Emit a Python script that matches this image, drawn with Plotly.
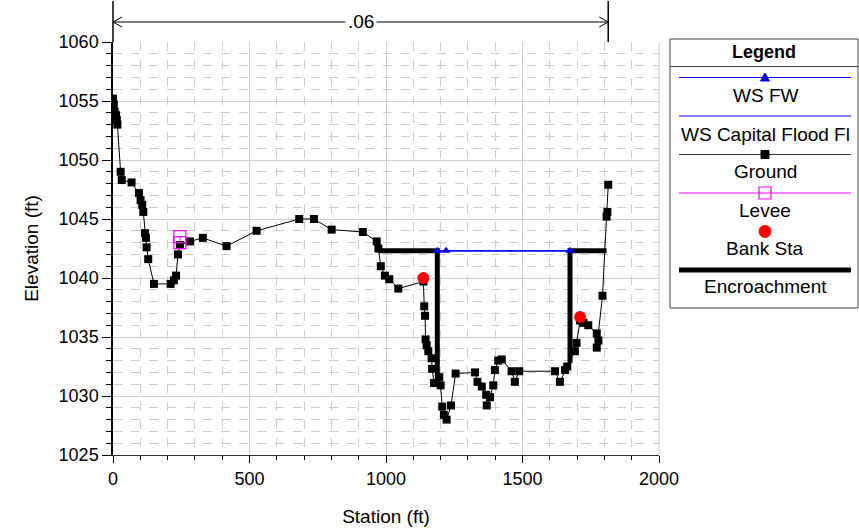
import plotly.graph_objects as go

# ---------------- data ----------------
ground_sta = [0, 3, 6, 11, 14, 16, 28, 32, 68, 95, 101, 107, 111, 117, 121, 123, 129, 150, 211, 223,
              231, 238, 245, 282, 329, 416, 526, 682, 736, 801, 915, 966, 972, 981, 996, 1012, 1045,
              1137, 1140, 1143, 1145, 1149, 1155, 1167, 1169, 1176, 1195, 1200, 1206, 1212, 1222,
              1238, 1255, 1326, 1335, 1351, 1367, 1369, 1381, 1393, 1399, 1411, 1424, 1460, 1472,
              1488, 1619, 1637, 1656, 1664, 1692, 1698, 1711, 1723, 1741, 1772, 1778, 1772, 1793,
              1808, 1811, 1814]
ground_elev = [1055.2, 1054.7, 1054.1, 1053.8, 1053.4, 1053.0, 1049.0, 1048.3, 1048.1, 1047.2, 1046.6,
               1046.2, 1045.6, 1043.8, 1043.4, 1042.6, 1041.6, 1039.5, 1039.5, 1039.8, 1040.2, 1042.0,
               1042.8, 1043.1, 1043.4, 1042.7, 1044.0, 1045.0, 1045.0, 1044.1, 1043.9, 1043.1, 1042.5,
               1041.0, 1040.2, 1039.9, 1039.1, 1039.7, 1037.6, 1036.8, 1034.8, 1034.3, 1033.8, 1033.2,
               1032.3, 1031.1, 1031.6, 1030.9, 1029.1, 1028.4, 1028.0, 1029.2, 1031.9, 1032.0, 1031.2,
               1030.8, 1030.1, 1029.2, 1029.9, 1030.9, 1032.2, 1033.0, 1033.1, 1032.1, 1031.2, 1032.1,
               1032.1, 1031.2, 1032.2, 1032.5, 1033.8, 1034.5, 1036.4, 1036.2, 1036.0, 1035.3, 1034.7,
               1034.1, 1038.5, 1045.2, 1045.6, 1047.9]

levee_sta = [245, 245]
levee_elev = [1043.5, 1043.0]

bank_sta = [1137, 1711]
bank_elev = [1040.0, 1036.7]

ws_sta = [1188, 1220, 1674]
ws_fw_elev = [1042.3, 1042.3, 1042.3]
ws_cap_elev = [1042.3, 1042.3, 1042.3]

encr_sta = [972, 1188, 1188, None, 1674, 1674, 1808]
encr_elev = [1042.3, 1042.3, 1031.1, None, 1032.8, 1042.3, 1042.3]

n_label = [".06"]
n_sta = [0, 1814]

x_range = [0, 2000]
y_range = [1025, 1060]

legend_names = ["WS FW", "WS Capital Flood Fl", "Ground", "Levee", "Bank Sta", "Encroachment"]

# ---------------- layout helpers ----------------
W, H = 859, 529
L, R, T, B = 113, 200, 42, 74
PW, PH = W - L - R, H - T - B
FONT = "Liberation Sans, Arial, sans-serif"


def px(xpix):
    return (xpix - L) / PW


def py(ypix):
    return (H - B - ypix) / PH


def sta2paper(s):
    return (s - x_range[0]) / (x_range[1] - x_range[0])


fig = go.Figure()

fig.add_trace(go.Scatter(x=ws_sta, y=ws_cap_elev, mode="lines", line=dict(color="#0000ff", width=1.2),
                         name=legend_names[1], showlegend=False))
fig.add_trace(go.Scatter(x=encr_sta, y=encr_elev, mode="lines", line=dict(color="black", width=5),
                         name=legend_names[5], showlegend=False, connectgaps=False))
fig.add_trace(go.Scatter(x=ground_sta, y=ground_elev, mode="lines+markers",
                         line=dict(color="black", width=1),
                         marker=dict(symbol="square", size=8, color="black"),
                         name=legend_names[2], showlegend=False))
fig.add_trace(go.Scatter(x=ws_sta, y=ws_fw_elev, mode="lines+markers", line=dict(color="#0000ff", width=1.2),
                         marker=dict(symbol="triangle-up", size=8, color="#0000ff"),
                         name=legend_names[0], showlegend=False))
fig.add_trace(go.Scatter(x=levee_sta, y=levee_elev, mode="lines+markers", line=dict(color="#ff00ff", width=1),
                         marker=dict(symbol="square-open", size=12, color="#ff00ff", line=dict(width=1.2)),
                         name=legend_names[3], showlegend=False))
fig.add_trace(go.Scatter(x=bank_sta, y=bank_elev, mode="markers",
                         marker=dict(symbol="circle", size=12, color="#ff0000"),
                         name=legend_names[4], showlegend=False))

shapes = []
annotations = []

# ---- n-value dimension line above the plot ----
x0p, x1p = sta2paper(n_sta[0]), sta2paper(n_sta[1])
ydim = py(22)
shapes.append(dict(type="line", xref="paper", yref="paper", x0=x0p, x1=x1p, y0=ydim, y1=ydim,
                   line=dict(color="black", width=1)))
for xp in (x0p, x1p):
    shapes.append(dict(type="line", xref="paper", yref="paper", x0=xp, x1=xp, y0=py(1), y1=py(42),
                       line=dict(color="black", width=1.5)))
ax_dx = 9 / PW
ax_dy = 5 / PH
shapes.append(dict(type="path", xref="paper", yref="paper",
                   path=f"M {x0p+ax_dx},{ydim+ax_dy} L {x0p},{ydim} L {x0p+ax_dx},{ydim-ax_dy}",
                   line=dict(color="black", width=1)))
shapes.append(dict(type="path", xref="paper", yref="paper",
                   path=f"M {x1p-ax_dx},{ydim+ax_dy} L {x1p},{ydim} L {x1p-ax_dx},{ydim-ax_dy}",
                   line=dict(color="black", width=1)))
annotations.append(dict(text=n_label[0], xref="paper", yref="paper", x=(x0p + x1p) / 2, y=ydim,
                        showarrow=False, font=dict(family=FONT, size=19, color="black"),
                        bgcolor="white", xanchor="center", yanchor="middle", borderpad=2))

# ---- custom legend box ----
lx0, lx1 = px(670), px(858)
shapes.append(dict(type="rect", xref="paper", yref="paper", x0=lx0, x1=lx1, y0=py(308), y1=py(39),
                   line=dict(color="#444444", width=1), fillcolor="white", layer="below"))
shapes.append(dict(type="line", xref="paper", yref="paper", x0=lx0, x1=lx1, y0=py(66.5), y1=py(66.5),
                   line=dict(color="#444444", width=1)))
annotations.append(dict(text="<b>Legend</b>", xref="paper", yref="paper", x=px(764), y=py(52),
                        showarrow=False, font=dict(family=FONT, size=18, color="black"),
                        xanchor="center", yanchor="middle"))

sx0, sx1, sxc = px(679), px(851), px(765)
line_y = [77.5, 116, 154.5, 193, 231.5, 270]
text_y = [95, 134, 172, 210, 248, 286]
leg_colors = ["#0000ff", "#0000ff", "#333333", "#ff00ff", None, "black"]
for i, name in enumerate(legend_names):
    yy = py(line_y[i])
    if leg_colors[i] is not None:
        w = 5 if i == 5 else 1.2
        shapes.append(dict(type="line", xref="paper", yref="paper", x0=sx0, x1=sx1, y0=yy, y1=yy,
                           line=dict(color=leg_colors[i], width=w)))
    annotations.append(dict(text=name, xref="paper", yref="paper", x=sxc, y=py(text_y[i]),
                            showarrow=False, font=dict(family=FONT, size=19, color="black"),
                            xanchor="center", yanchor="middle"))

# legend marker glyphs
def rect_px(cx, cy, half, **kw):
    return dict(type="rect", xref="paper", yref="paper", x0=px(cx - half), x1=px(cx + half),
                y0=py(cy + half), y1=py(cy - half), **kw)

# triangle (WS FW)
shapes.append(dict(type="path", xref="paper", yref="paper",
                   path=f"M {px(760.5)},{py(81)} L {px(769.5)},{py(81)} L {px(765)},{py(73)} Z",
                   fillcolor="#0000ff", line=dict(color="#0000ff", width=1)))
# square (Ground)
shapes.append(rect_px(765, 154.5, 4, fillcolor="black", line=dict(color="black", width=1)))
# open square (Levee)
shapes.append(rect_px(765, 193, 6, fillcolor="rgba(0,0,0,0)", line=dict(color="#ff00ff", width=1.2)))
# circle (Bank Sta)
shapes.append(dict(type="circle", xref="paper", yref="paper", x0=px(759), x1=px(771),
                   y0=py(237.5), y1=py(225.5), fillcolor="#ff0000", line=dict(color="#ff0000", width=1)))

grid_col = "#cccccc"
fig.update_layout(
    width=W, height=H,
    margin=dict(l=L, r=R, t=T, b=B, pad=0, autoexpand=False),
    paper_bgcolor="white", plot_bgcolor="white",
    font=dict(family=FONT, size=18, color="black"),
    shapes=shapes, annotations=annotations,
    showlegend=False,
    xaxis=dict(range=x_range, dtick=500, tick0=0, showgrid=True, gridcolor=grid_col, gridwidth=1,
               showline=True, linecolor="#333333", linewidth=1, ticks="outside", ticklen=7,
               tickcolor="black", zeroline=False, mirror=False, automargin=False,
               title=dict(text="Station (ft)", font=dict(size=19), standoff=22),
               tickfont=dict(size=18),
               minor=dict(dtick=100, ticks="outside", ticklen=4, tickcolor="black", showgrid=True,
                          gridcolor=grid_col, griddash="dash", gridwidth=1)),
    yaxis=dict(range=y_range, dtick=5, tick0=1025, showgrid=True, gridcolor=grid_col, gridwidth=1,
               showline=True, linecolor="black", linewidth=1.5, ticks="outside", ticklen=9,
               tickcolor="black", zeroline=False, automargin=False,
               title=dict(text="Elevation (ft)", font=dict(size=19), standoff=15),
               tickfont=dict(size=18),
               minor=dict(dtick=1, ticks="outside", ticklen=5, tickcolor="black", showgrid=True,
                          gridcolor=grid_col, griddash="dash", gridwidth=1)),
)

# right border of plot in light grey
fig.add_shape(type="line", xref="paper", yref="paper", x0=1, x1=1, y0=0, y1=1,
              line=dict(color=grid_col, width=1))

fig.write_html("out.html")
